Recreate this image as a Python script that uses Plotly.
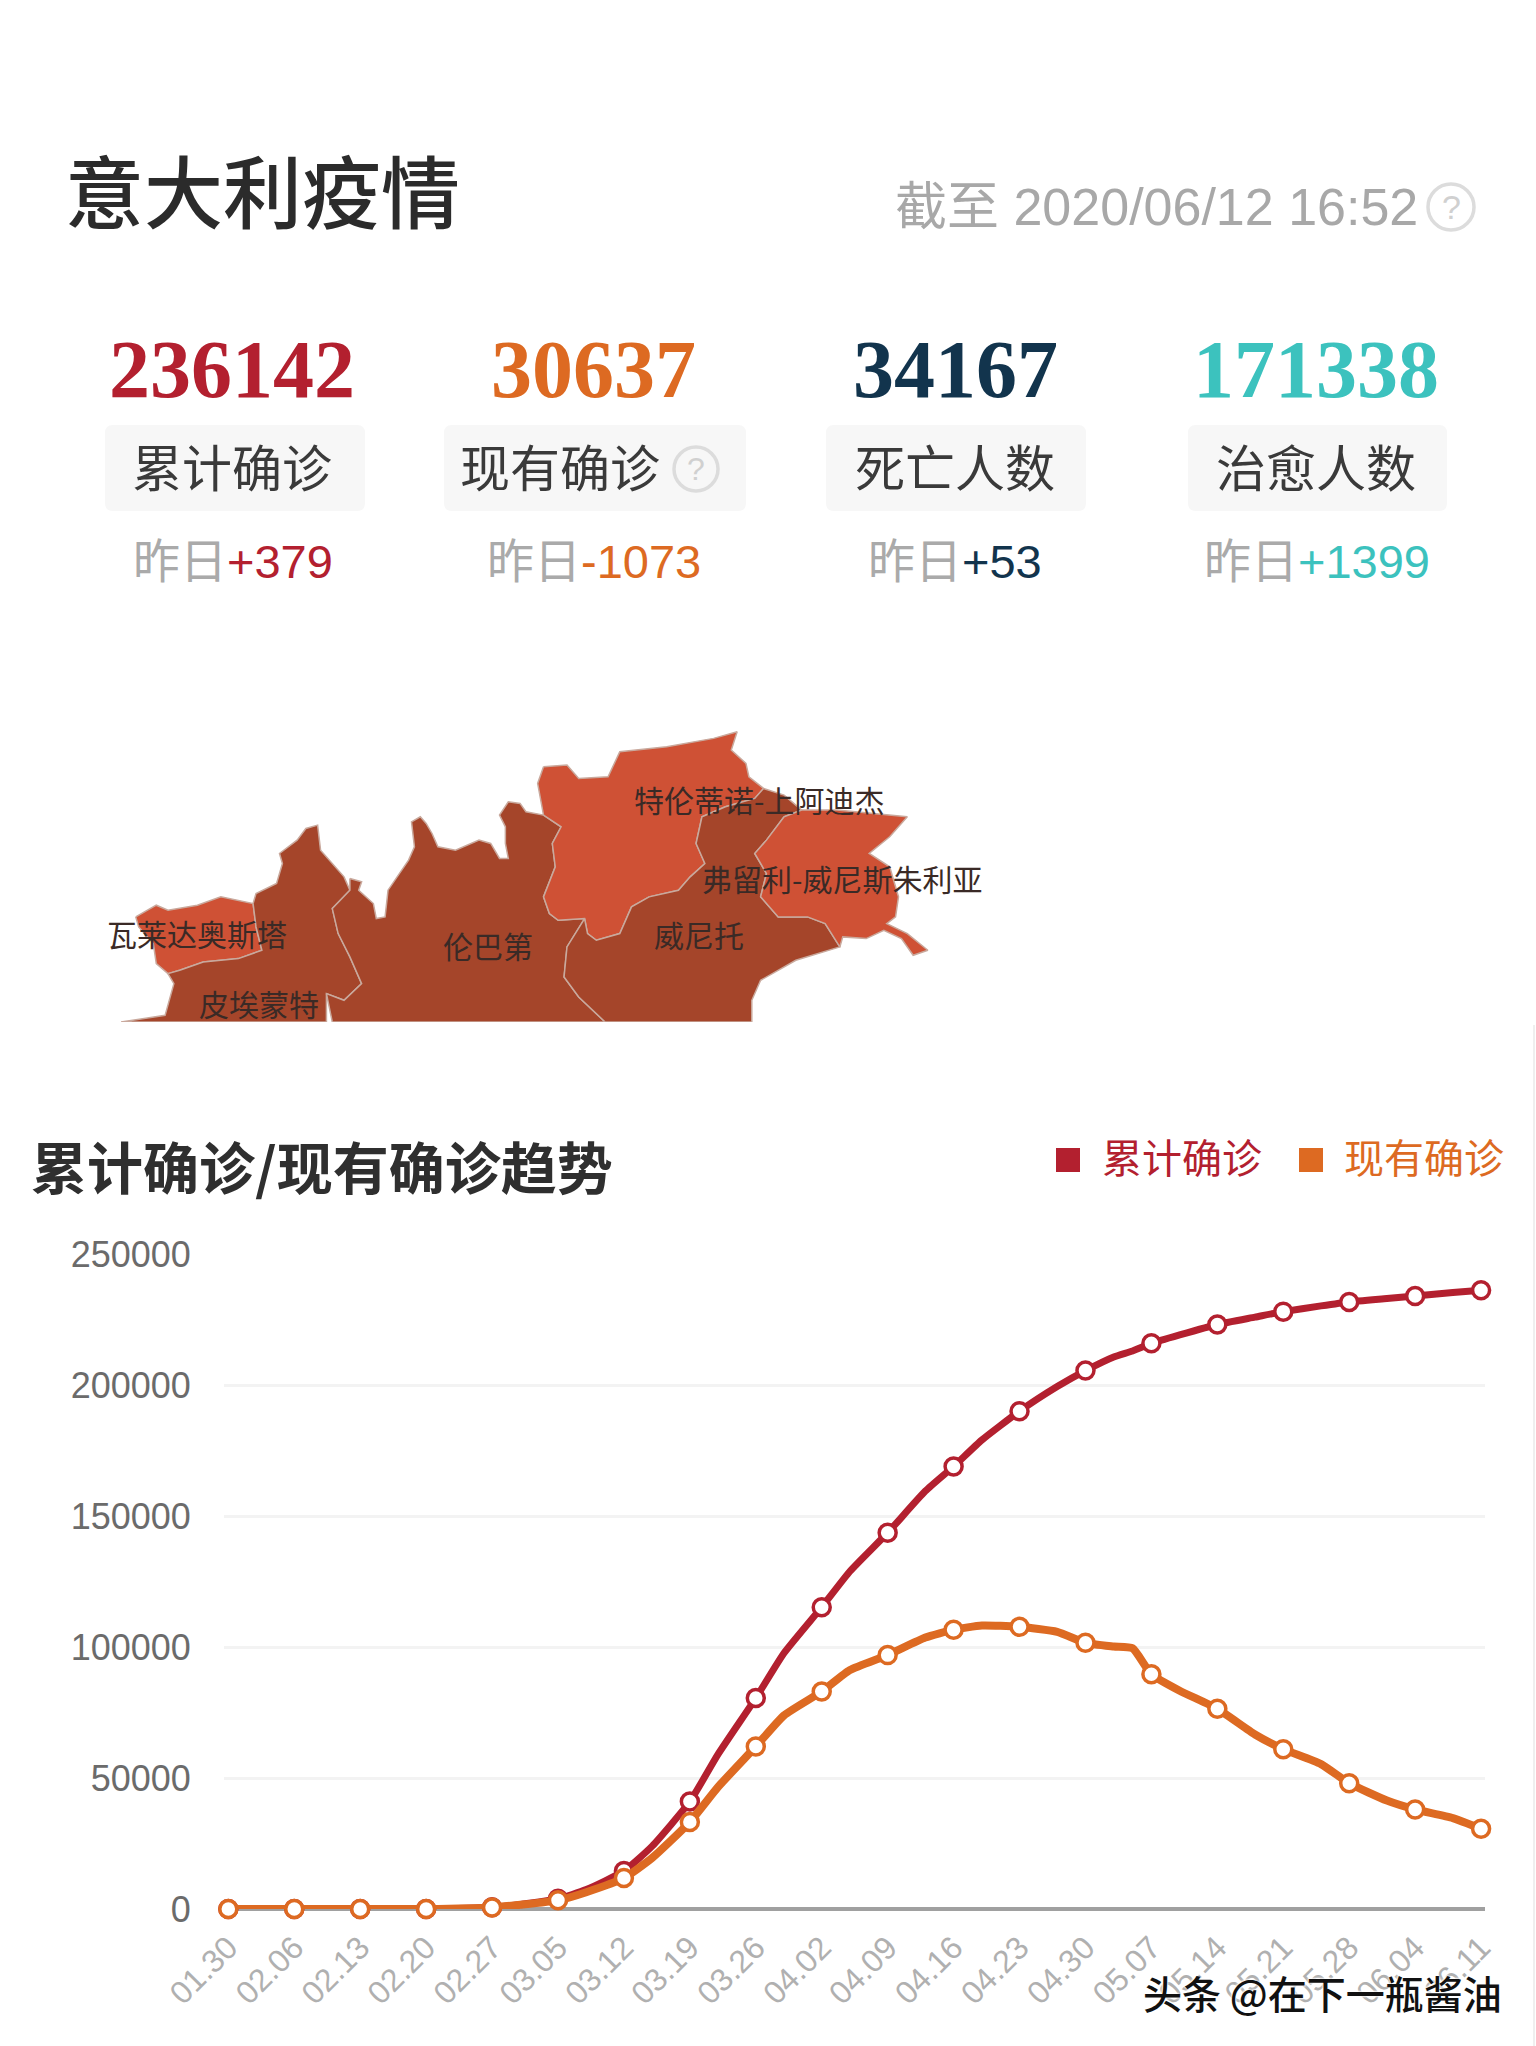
import plotly.graph_objects as go

W, H = 1536, 2046
SANS = "Liberation Sans, Noto Sans CJK SC"
CJK = "Noto Sans CJK SC"
RED, ORANGE, NAVY, TEAL = "#b3202f", "#dd6a22", "#12344d", "#3cc2be"
MAP_DARK, MAP_LIGHT, MAP_EDGE = "#a5452a", "#cf5135", "#c9a99d"

# ---- data ----
page_title = "意大利疫情"
as_of = "截至 2020/06/12 16:52"
card_names = ["累计确诊", "现有确诊", "死亡人数", "治愈人数"]
card_totals = ["236142", "30637", "34167", "171338"]
card_deltas = ["+379", "-1073", "+53", "+1399"]
card_colors = [RED, ORANGE, NAVY, TEAL]

chart_title = "累计确诊/现有确诊趋势"
dates = ["01-30", "02-06", "02-13", "02-20", "02-27", "03-01", "03-05", "03-08", "03-12",
         "03-15", "03-19", "03-22", "03-26", "03-29", "04-02", "04-05", "04-09", "04-13",
         "04-16", "04-19", "04-23", "04-27", "04-30", "05-03", "05-05", "05-07", "05-10",
         "05-14", "05-18", "05-21", "05-25", "05-28", "06-01", "06-04", "06-08", "06-11"]
cumulative = [0, 3, 3, 3, 650, 1700, 3900, 7400, 14500, 24000, 41000, 59100, 80500, 97700,
              115200, 128900, 143600, 159500, 168900, 179000, 190000, 199400, 205500, 210700,
              213000, 215900, 219100, 223100, 225900, 228000, 230200, 231700, 233000, 234000,
              235300, 236142]
active = [0, 3, 3, 3, 590, 1600, 3300, 6400, 11800, 19500, 33200, 46600, 62000, 73900, 83000,
          91200, 96900, 103600, 106600, 108200, 107700, 105800, 101600, 100200, 99500, 89600,
          83300, 76400, 66600, 61000, 55300, 48000, 41400, 38000, 34700, 30637]
tick_dates = ["01-30", "02-06", "02-13", "02-20", "02-27", "03-05", "03-12", "03-19", "03-26",
              "04-02", "04-09", "04-16", "04-23", "04-30", "05-07", "05-14", "05-21", "05-28",
              "06-04", "06-11"]
y_ticks = [0, 50000, 100000, 150000, 200000, 250000]

# region outlines, in map units
region_names = ["瓦莱达奥斯塔", "皮埃蒙特", "伦巴第", "特伦蒂诺-上阿迪杰", "威尼托", "弗留利-威尼斯朱利亚"]
aosta = [(95,650),(130,615),(150,630),(200,615),(240,590),(295,610),(300,680),(310,750),(270,775),(210,785),(170,810),(150,820),(130,790),(125,730),(100,680)]
piemonte = [(295,610),(300,580),(335,550),(345,490),(340,460),(370,420),(385,385),(405,375),(410,450),(450,530),(460,570),(430,625),(440,700),(460,770),(480,850),(450,900),(420,880),(420,965),(70,965),(110,955),(145,945),(160,850),(150,820),(170,810),(210,785),(270,775),(310,750),(300,680)]
lombardia = [(460,535),(480,545),(475,570),(500,610),(505,655),(520,650),(525,570),(560,480),(570,440),(565,365),(580,350),(590,370),(600,400),(610,440),(640,450),(680,420),(700,430),(715,475),(730,475),(725,430),(725,380),(715,345),(730,305),(750,310),(760,335),(790,345),(820,380),(805,430),(810,500),(790,590),(800,640),(815,660),(860,655),(830,740),(825,830),(850,890),(895,965),(430,965),(420,880),(450,900),(480,850),(460,770),(440,700),(430,625),(460,570)]
trentino = [(790,200),(830,195),(850,235),(900,230),(920,155),(1000,140),(1080,115),(1120,95),(1110,150),(1135,190),(1140,230),(1165,265),(1150,295),(1100,320),(1060,350),(1050,430),(1065,490),(1040,530),(1020,570),(970,590),(940,620),(920,700),(880,720),(865,700),(860,655),(815,660),(800,640),(790,590),(810,500),(805,430),(820,380),(790,345),(780,250)]
veneto = [(1165,265),(1200,285),(1230,330),(1200,350),(1170,420),(1150,460),(1170,520),(1160,590),(1190,650),(1240,650),(1270,670),(1295,740),(1220,780),(1160,840),(1145,900),(1145,965),(895,965),(850,890),(825,830),(830,740),(860,655),(865,700),(880,720),(920,700),(940,620),(970,590),(1020,570),(1040,530),(1065,490),(1050,430),(1060,350),(1100,320),(1150,295)]
friuli = [(1200,350),(1230,330),(1290,330),(1410,350),(1380,410),(1345,460),(1380,500),(1395,590),(1390,650),(1375,670),(1410,700),(1445,750),(1420,765),(1400,715),(1370,690),(1340,715),(1300,710),(1295,740),(1270,670),(1240,650),(1190,650),(1160,590),(1170,520),(1150,460),(1170,420)]
region_shapes = [aosta, piemonte, lombardia, trentino, veneto, friuli]
region_fills = [MAP_LIGHT, MAP_DARK, MAP_DARK, MAP_LIGHT, MAP_DARK, MAP_LIGHT]
region_label_pos = [(200,697),(305,907),(695,735),(1158,297),(1055,700),(1298,532)]


def full(d):
    return "2020-" + d


def px(x):
    return x / W


def py(y):
    return 1 - y / H


fig = go.Figure()

# map
for name, outline, fill in zip(region_names, region_shapes, region_fills):
    xs = [p[0] for p in outline] + [outline[0][0]]
    ys = [p[1] for p in outline] + [outline[0][1]]
    fig.add_trace(go.Scatter(x=xs, y=ys, xaxis="x2", yaxis="y2", mode="lines", fill="toself",
                             fillcolor=fill, line=dict(color=MAP_EDGE, width=1.5), name=name,
                             hoverinfo="name", showlegend=False))

# trend lines
for vals, color, width, name in [(cumulative, RED, 7, "累计确诊"), (active, ORANGE, 8, "现有确诊")]:
    sizes = [17 if d in tick_dates else 0 for d in dates]
    fig.add_trace(go.Scatter(
        x=[full(d) for d in dates], y=vals, mode="lines+markers", name=name, showlegend=False,
        line=dict(color=color, width=width, shape="spline", smoothing=0.5),
        marker=dict(size=sizes, color="white", opacity=1, line=dict(color=color, width=3.5)),
        cliponaxis=False))

ann = []


def text(x, y, s, size, color, family=SANS, anchor="center", weight=None, **kw):
    f = dict(size=size, color=color, family=family)
    if weight:
        f["weight"] = weight
    ann.append(dict(x=px(x), y=py(y), xref="paper", yref="paper", text=s, showarrow=False,
                    xanchor=anchor, yanchor="middle", font=f, **kw))


shapes = []


def rounded_box(x0, y0, x1, y1, r=8):
    p = (f"M {px(x0+r)} {py(y0)} L {px(x1-r)} {py(y0)} Q {px(x1)} {py(y0)} {px(x1)} {py(y0+r)} "
         f"L {px(x1)} {py(y1-r)} Q {px(x1)} {py(y1)} {px(x1-r)} {py(y1)} "
         f"L {px(x0+r)} {py(y1)} Q {px(x0)} {py(y1)} {px(x0)} {py(y1-r)} "
         f"L {px(x0)} {py(y0+r)} Q {px(x0)} {py(y0)} {px(x0+r)} {py(y0)} Z")
    shapes.append(dict(type="path", xref="paper", yref="paper", path=p, fillcolor="#f7f7f7",
                       line=dict(width=0), layer="below"))


def help_icon(cx, cy, r, size):
    shapes.append(dict(type="circle", xref="paper", yref="paper", x0=px(cx-r), x1=px(cx+r),
                       y0=py(cy+r), y1=py(cy-r), line=dict(color="#dcdcdc", width=3.5)))
    text(cx, cy, "?", size, "#d0d0d0")


# header
text(63, 188, page_title, 79, "#2b2b2b", family=CJK, anchor="left", weight=500)
text(1420, 207, as_of, 52, "#a8a8a8", anchor="right")
help_icon(1451, 207, 23, 34)

# cards
card_x = [232, 593, 955, 1316]
box_x = [(105, 365), (444, 746), (826, 1086), (1188, 1447)]
name_x = [232, 560, 955, 1316]
delta_x = [233, 594, 955, 1317]
for i in range(4):
    text(card_x[i], 369, card_totals[i], 82, card_colors[i], family="Liberation Serif", weight=700)
    rounded_box(box_x[i][0], 425, box_x[i][1], 511)
    text(name_x[i], 465, card_names[i], 50, "#3a3a3a", family=CJK)
    text(delta_x[i], 561, f'昨日<span style="color:{card_colors[i]}">{card_deltas[i]}</span>', 47, "#aaaaaa")
help_icon(696, 469, 22, 32)

# map labels
for name, (lx, ly) in zip(region_names, region_label_pos):
    ann.append(dict(x=lx, y=ly, xref="x2", yref="y2", text=name, showarrow=False,
                    font=dict(size=30, color="#3a2a26", family=CJK)))

# chart header and legend
text(29, 1164, chart_title, 56, "#2f2f2f", family=CJK, anchor="left", weight=700)
for x0, color, tx, s in [(1056, RED, 1100, "累计确诊"), (1299, ORANGE, 1342, "现有确诊")]:
    shapes.append(dict(type="rect", xref="paper", yref="paper", x0=px(x0), x1=px(x0+24),
                       y0=py(1172), y1=py(1148), fillcolor=color, line=dict(width=0)))
    text(tx, 1156, s, 40, color, family=CJK, anchor="left")

# watermark
text(1141, 1992, "头条 @在下一瓶酱油", 39, "#111111", family=CJK, anchor="left", weight=500)
ann[-1]["font"]["shadow"] = "1px 1px 2px white, -1px -1px 2px white"

# faint page edge
shapes.append(dict(type="line", xref="paper", yref="paper", x0=px(1534), x1=px(1534),
                   y0=py(1025), y1=py(H), line=dict(color="#efefef", width=2)))

fig.update_layout(
    width=W, height=H, autosize=False, margin=dict(l=0, r=0, t=0, b=0, pad=0),
    paper_bgcolor="white", plot_bgcolor="white", showlegend=False,
    annotations=ann, shapes=shapes,
    xaxis=dict(domain=[px(224), px(1485)], type="date", automargin=False,
               range=["2020-01-29 13:00", "2020-06-11 10:00"],
               tickmode="array", tickvals=[full(d) for d in tick_dates],
               ticktext=[d.replace("-", ".") for d in tick_dates], tickangle=-45,
               tickfont=dict(size=32, color="#b0b0b0", family=SANS),
               showgrid=False, zeroline=False, showline=False, ticks="outside", ticklen=6,
               tickcolor="rgba(0,0,0,0)", anchor="y"),
    yaxis=dict(domain=[py(1909), py(1254)], range=[0, 250000], tickmode="array", tickvals=y_ticks,
               automargin=False,
               tickfont=dict(size=36, color="#6b6b6b", family=SANS), showgrid=True,
               gridcolor="#f3f3f3", gridwidth=3, zeroline=True, zerolinecolor="#a0a0a0",
               zerolinewidth=4, showline=False, ticks="outside", ticklen=25,
               tickcolor="rgba(0,0,0,0)", tickformat="d", anchor="x"),
    xaxis2=dict(domain=[px(80), px(1000)], range=[0, 1568], visible=False, anchor="y2", automargin=False),
    yaxis2=dict(domain=[py(1022), py(700)], range=[965, 0], visible=False, anchor="x2", automargin=False),
)

fig.write_html("out.html", post_script="document.body.style.margin='0';",
               config=dict(displayModeBar=False))
